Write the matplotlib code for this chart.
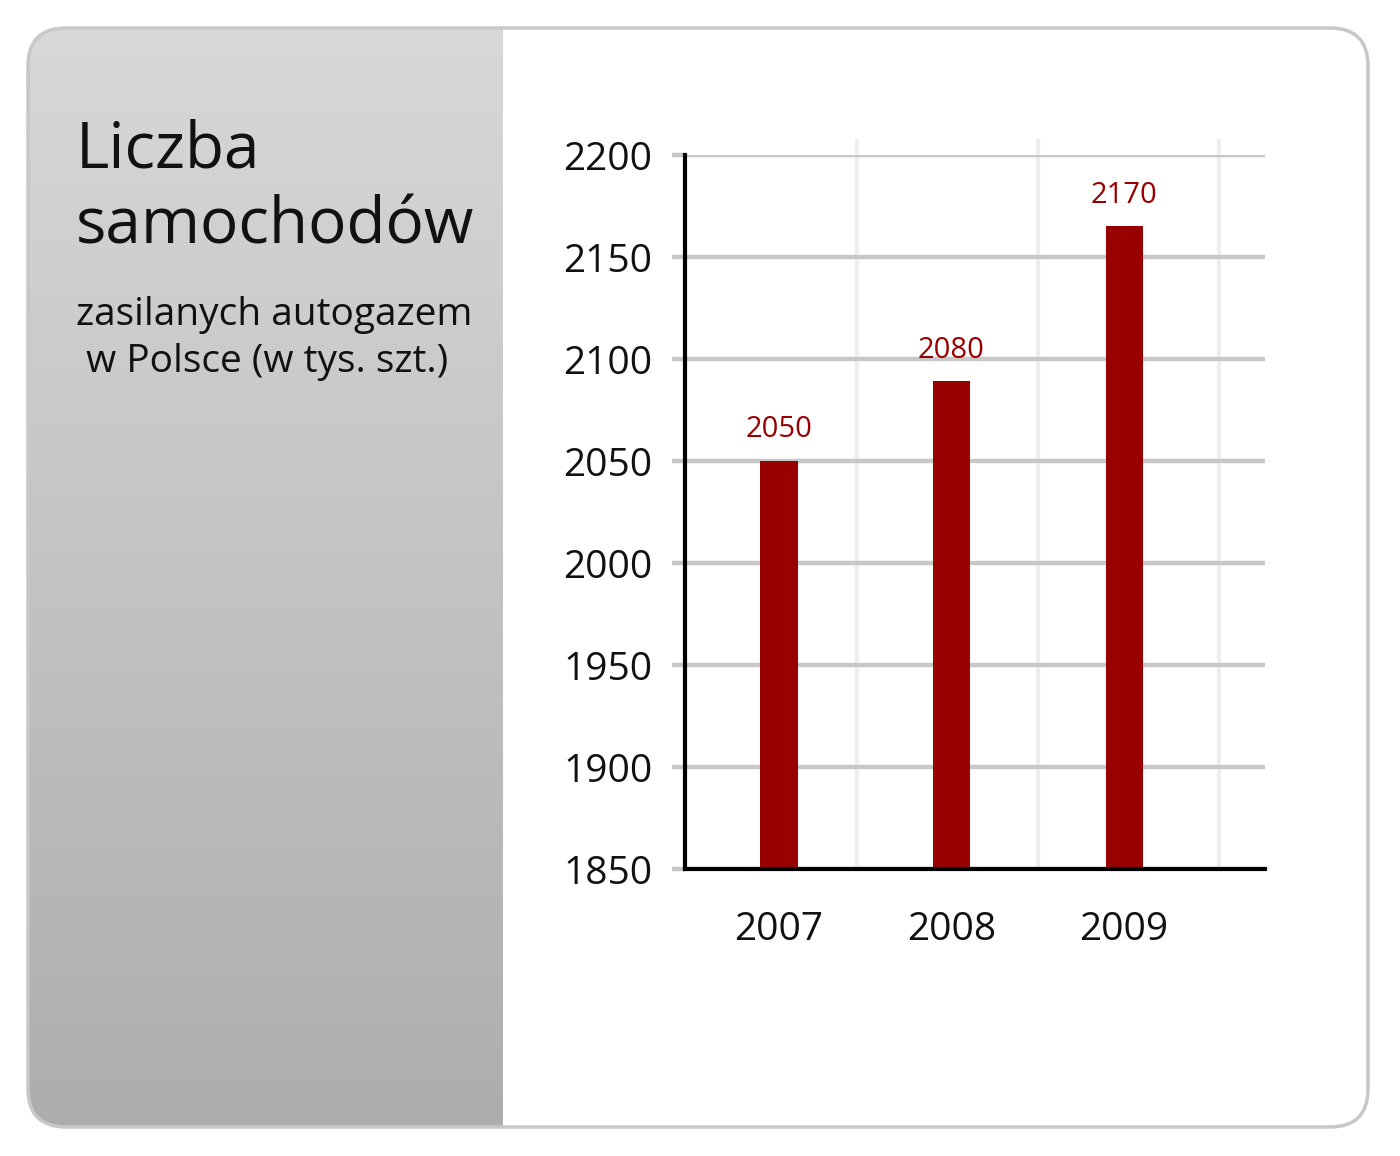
import numpy as np
import matplotlib.pyplot as plt
from matplotlib.patches import FancyBboxPatch
from matplotlib.colors import LinearSegmentedColormap

# data
years = ["2007", "2008", "2009"]
bar_values = [2050, 2089, 2165]
label_values = [2050, 2080, 2170]
y_ticks = [1850, 1900, 1950, 2000, 2050, 2100, 2150, 2200]

title_lines = ["Liczba", "samochodów"]
subtitle_lines = ["zasilanych autogazem", " w Polsce (w tys. szt.)"]

plt.rcParams['font.family'] = ['Open Sans', 'DejaVu Sans']

W, H = 1400, 1156
fig = plt.figure(figsize=(W / 100, H / 100), dpi=100)
fig.patch.set_facecolor('white')

# background: rounded frame with grey gradient panel on the left
bg = fig.add_axes([0, 0, 1, 1])
bg.axis('off')

frame = FancyBboxPatch((28, 28), 1340, 1099, boxstyle="round,pad=0,rounding_size=38",
                       facecolor='white', edgecolor='none', zorder=1)
bg.add_patch(frame)
grad = np.linspace(0, 1, 256).reshape(-1, 1)
cmap = LinearSegmentedColormap.from_list('panel', ['#d8d8d8', '#c3c3c3', '#adadad'])
im = bg.imshow(grad, cmap=cmap, extent=(28, 503, 1127, 28), aspect='auto',
               origin='upper', zorder=2)
im.set_clip_path(frame)
bg.add_patch(FancyBboxPatch((28, 28), 1340, 1099, boxstyle="round,pad=0,rounding_size=38",
                            facecolor='none', edgecolor='#c8c8c8', linewidth=2.5, zorder=3))
bg.set_xlim(0, W)
bg.set_ylim(H, 0)

for line, yb in zip(title_lines, [167, 243]):
    bg.text(76, yb, line, fontsize=46, color='#111111', va='baseline', ha='left', zorder=4)
for line, yb in zip(subtitle_lines, [325, 372]):
    bg.text(76, yb, line, fontsize=28, color='#111111', va='baseline', ha='left', zorder=4)

# main chart
ax = fig.add_axes([685 / W, 1 - 869 / H, 580 / W, 714 / H])
ax.set_facecolor('none')
x = np.arange(len(years))
ax.bar(x, bar_values, width=0.215, color='#990000', zorder=3)
for xi, v, lab in zip(x, bar_values, label_values):
    ax.annotate(str(lab), (xi, v), xytext=(0, 17), textcoords='offset points',
                ha='center', va='baseline', fontsize=21, color='#990000')

ax.set_ylim(1850, 2200)
ax.set_xlim(-0.545, 2.817)
ax.set_yticks(y_ticks)
ax.set_xticks(x)
ax.set_xticklabels(years)

ax.grid(axis='y', color='#c8c8c8', linewidth=3.2, zorder=1)
for xv in [0.452, 1.5, 2.55]:
    ax.axvline(xv, ymin=0, ymax=1.02, color='#eeeeee', linewidth=3, zorder=0, clip_on=False)
ax.set_axisbelow(True)

for s in ['top', 'right']:
    ax.spines[s].set_visible(False)
ax.spines['left'].set_linewidth(3)
ax.spines['bottom'].set_linewidth(3)
ax.spines['left'].set_zorder(4)
ax.spines['bottom'].set_zorder(4)

ax.tick_params(axis='y', length=9.5, width=3.2, color='#c8c8c8', pad=14,
               labelsize=28, labelcolor='#111111')
ax.tick_params(axis='x', length=0, pad=30, labelsize=28, labelcolor='#111111')

fig.savefig('out.png', dpi=100, facecolor='white')
